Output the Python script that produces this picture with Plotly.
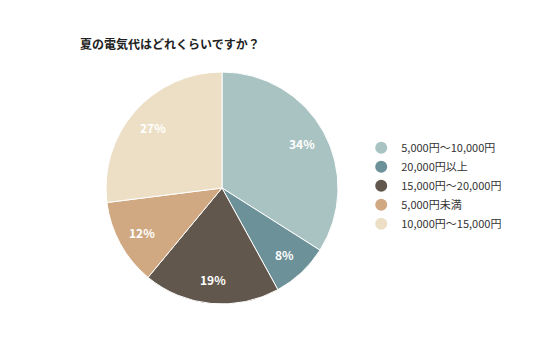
import math
import plotly.graph_objects as go

labels = ["5,000円～10,000円", "20,000円以上", "15,000円～20,000円", "5,000円未満", "10,000円～15,000円"]
values = [34, 8, 19, 12, 27]
colors = ["#a9c2c2", "#6c9198", "#62574d", "#d0a983", "#ecdfc5"]
title = "夏の電気代はどれくらいですか？"

font_family = "Noto Sans CJK JP, Noto Sans, sans-serif"
W, H = 536, 357
CX, CY, R = 214, 180, 116  # pie centre / radius in px (page offset compensated)

fig = go.Figure()
fig.add_trace(go.Pie(
    labels=labels, values=values, sort=False, direction="clockwise", rotation=0,
    marker=dict(colors=colors, line=dict(color="#ffffff", width=1)),
    textinfo="none", showlegend=False, hoverinfo="label+percent",
    domain=dict(x=[(CX - R) / W, (CX + R) / W], y=[1 - (CY + R) / H, 1 - (CY - R) / H]),
))
for lab, col in zip(labels, colors):
    fig.add_trace(go.Scatter(
        x=[None], y=[None], mode="markers", name=lab,
        marker=dict(symbol="circle", size=11, color=col), showlegend=True,
    ))

# percentage labels placed at ~0.79 R along each slice's mid-angle
total = sum(values)
annotations = []
cum = 0
for v in values:
    mid = (cum + v / 2) / total * 2 * math.pi
    cum += v
    rl = 0.79 * R
    annotations.append(dict(
        x=(CX + rl * math.sin(mid)) / W, y=1 - (CY - rl * math.cos(mid)) / H,
        xref="paper", yref="paper", showarrow=False,
        text="<b>%d%%</b>" % round(v / total * 100),
        font=dict(color="#ffffff", size=12, family=font_family),
        xanchor="center", yanchor="middle",
    ))

fig.update_layout(
    width=W, height=H,
    margin=dict(l=0, r=0, t=0, b=0, autoexpand=False),
    paper_bgcolor="#ffffff", plot_bgcolor="#ffffff",
    font=dict(family=font_family, color="#333333", size=11),
    title=dict(text="<b>" + title + "</b>", x=72 / W, xanchor="left", y=1 - 37 / H, yanchor="middle",
               font=dict(size=12, color="#222222", family=font_family)),
    xaxis=dict(visible=False), yaxis=dict(visible=False),
    legend=dict(x=0.659, xanchor="left", y=0.502, yanchor="middle",
                font=dict(size=11, color="#333333", family=font_family),
                itemsizing="constant", itemwidth=30, tracegroupgap=0, bgcolor="rgba(0,0,0,0)"),
    annotations=annotations,
)

fig.write_html("out.html")
